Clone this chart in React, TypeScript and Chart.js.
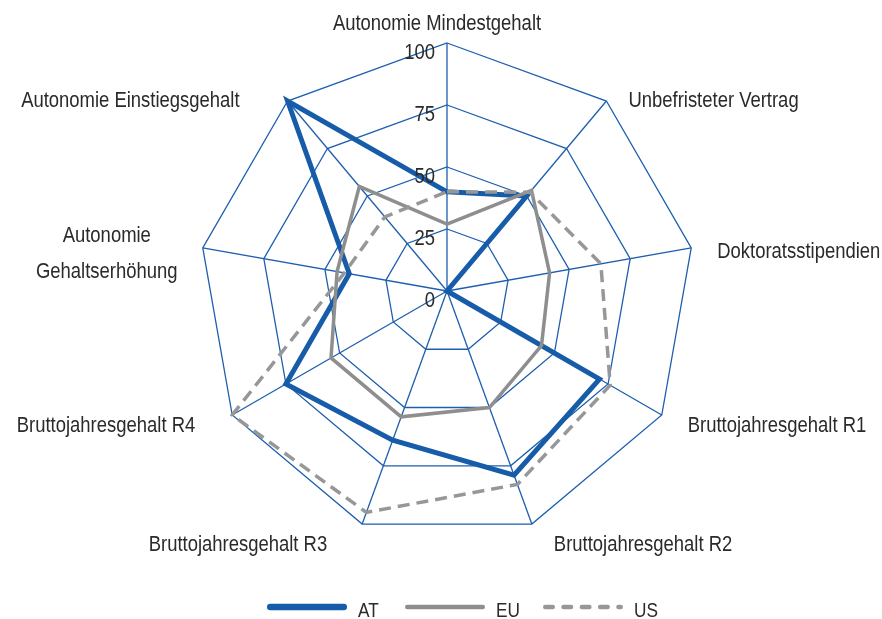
import React, { useEffect, useRef } from 'react';
import { Chart, registerables } from 'chart.js';

Chart.register(...registerables);

// ---- data ----
const categories: (string | string[])[] = [
  'Autonomie Mindestgehalt',
  'Unbefristeter Vertrag',
  'Doktoratsstipendien',
  'Bruttojahresgehalt R1',
  'Bruttojahresgehalt R2',
  'Bruttojahresgehalt R3',
  'Bruttojahresgehalt R4',
  ['Autonomie', 'Gehaltserhöhung'],
  'Autonomie Einstiegsgehalt',
];
const seriesNames = ['AT', 'EU', 'US'];
const atValues = [40, 50, 0, 71, 79, 64, 75, 40, 100];
const euValues = [27, 53, 42, 44, 50, 54, 54, 45, 55];
const usValues = [40, 52, 63, 76, 83, 95, 100, 42, 39];
const tickValues = [0, 25, 50, 75, 100];

// ---- styles ----
const GRID_BLUE = '#1d5fae';
const AT_BLUE = '#175ca9';
const EU_GRAY = '#8e8e8e';
const US_GRAY = '#979797';
const TEXT = '#2a2a2a';
const FONT_SIZE = 22.5;

// per-label placement relative to the outer vertex of its axis
const labelPlacement: { align: CanvasTextAlign; dx: number; dy: number }[] = [
  { align: 'center', dx: -10, dy: -13 },
  { align: 'left', dx: 22, dy: 6 },
  { align: 'left', dx: 26, dy: 10 },
  { align: 'left', dx: 26, dy: 17 },
  { align: 'left', dx: 22, dy: 27 },
  { align: 'right', dx: -35, dy: 27 },
  { align: 'right', dx: -37, dy: 17 },
  { align: 'center', dx: -96, dy: -6 },
  { align: 'right', dx: -48, dy: 6 },
];

let narrowAvailable: boolean | null = null;
function hasNarrow(ctx: CanvasRenderingContext2D): boolean {
  if (narrowAvailable !== null) return narrowAvailable;
  ctx.save();
  ctx.font = '40px "Liberation Sans Narrow", monospace';
  const a = ctx.measureText('Bruttojahresgehalt').width;
  ctx.font = '40px monospace';
  const b = ctx.measureText('Bruttojahresgehalt').width;
  ctx.restore();
  narrowAvailable = Math.abs(a - b) > 1;
  return narrowAvailable;
}

function drawText(
  ctx: CanvasRenderingContext2D,
  text: string,
  x: number,
  y: number,
  align: CanvasTextAlign,
  size: number,
  color: string
) {
  ctx.save();
  ctx.fillStyle = color;
  ctx.textBaseline = 'alphabetic';
  ctx.textAlign = align;
  if (hasNarrow(ctx)) {
    ctx.font = `${size}px "Liberation Sans Narrow"`;
    ctx.fillText(text, x, y);
  } else {
    ctx.font = `${size}px "Liberation Sans", Arial, sans-serif`;
    ctx.translate(x, y);
    ctx.scale(0.82, 1);
    ctx.fillText(text, 0, 0);
  }
  ctx.restore();
}

const legendStyles = [
  { color: AT_BLUE, width: 6.5, dash: [] as number[] },
  { color: EU_GRAY, width: 4.5, dash: [] as number[] },
  { color: US_GRAY, width: 4.5, dash: [7.5, 10.8] },
];

const overlayPlugin = {
  id: 'overlay',
  afterDatasetsDraw(chart: any) {
    const ctx: CanvasRenderingContext2D = chart.ctx;
    const scale = chart.scales.r;
    // tick labels, left of the vertical axis
    tickValues.forEach((v) => {
      const d = scale.getDistanceFromCenterForValue(v);
      drawText(ctx, String(v), scale.xCenter - 12, scale.yCenter - d + 15.5, 'right', FONT_SIZE, TEXT);
    });
    // point labels
    categories.forEach((label, i) => {
      const p = scale.getPointPosition(i, scale.drawingArea);
      const pl = labelPlacement[i];
      const lines = Array.isArray(label) ? label : [label];
      lines.forEach((ln, k) => {
        drawText(ctx, ln, p.x + pl.dx, p.y + pl.dy + k * 36, pl.align, FONT_SIZE, TEXT);
      });
    });
    // legend
    seriesNames.forEach((name, i) => {
      const st = legendStyles[i];
      const x0 = 267 + i * 138;
      const y = 607;
      ctx.save();
      ctx.strokeStyle = st.color;
      ctx.lineWidth = st.width;
      ctx.lineCap = 'round';
      ctx.setLineDash(st.dash);
      ctx.beginPath();
      ctx.moveTo(x0 + st.width / 2, y);
      ctx.lineTo(x0 + 80 - st.width / 2, y);
      ctx.stroke();
      ctx.restore();
      drawText(ctx, name, x0 + 91, 616.5, 'left', 21, TEXT);
    });
  },
};

export default function App() {
  const canvasRef = useRef<HTMLCanvasElement | null>(null);

  useEffect(() => {
    if (!canvasRef.current) return;
    const chart = new Chart(canvasRef.current, {
      type: 'radar',
      data: {
        labels: categories as any,
        datasets: [
          {
            label: seriesNames[0],
            data: atValues,
            borderColor: AT_BLUE,
            borderWidth: 5,
            fill: false,
            order: 2,
          },
          {
            label: seriesNames[1],
            data: euValues,
            borderColor: EU_GRAY,
            borderWidth: 3.5,
            fill: false,
            order: 1,
          },
          {
            label: seriesNames[2],
            data: usValues,
            borderColor: US_GRAY,
            borderWidth: 3.5,
            borderDash: [12, 7],
            fill: false,
            order: 0,
          },
        ],
      },
      options: {
        animation: false,
        responsive: true,
        maintainAspectRatio: false,
        layout: { padding: { left: 199, right: 187, top: 43, bottom: 80 } },
        elements: {
          line: { tension: 0, borderJoinStyle: 'miter' },
          point: { radius: 0, hoverRadius: 0 },
        },
        plugins: {
          legend: { display: false },
          tooltip: { enabled: false },
        },
        scales: {
          r: {
            min: 0,
            max: 100,
            ticks: { display: false, stepSize: 25 },
            pointLabels: { display: false },
            grid: { color: GRID_BLUE, lineWidth: 1.3 },
            angleLines: { color: GRID_BLUE, lineWidth: 1.3 },
          },
        },
      },
      plugins: [overlayPlugin],
    });
    return () => chart.destroy();
  }, []);

  return (
    <div style={{ position: 'fixed', left: 0, top: 0, width: 882, height: 619, background: '#fff' }}>
      <canvas ref={canvasRef} />
    </div>
  );
}
